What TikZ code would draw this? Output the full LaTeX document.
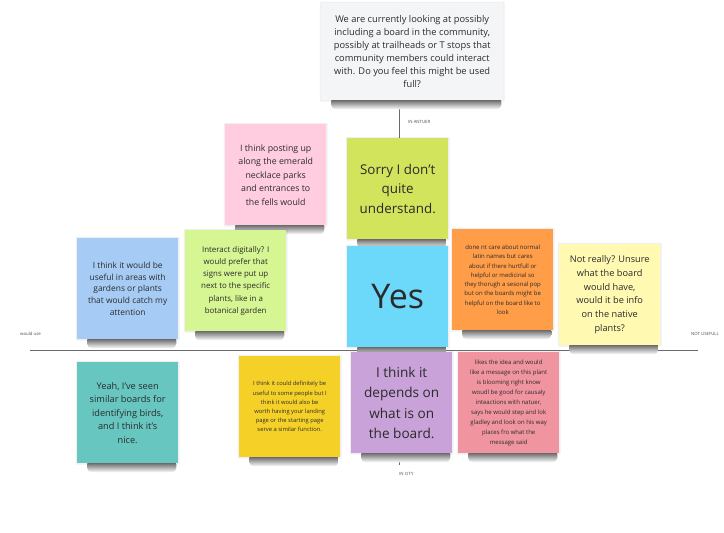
\documentclass[tikz,border=0pt]{standalone}
\usepackage{fontspec}
\setmainfont{Open Sans}
\usetikzlibrary{backgrounds}
\pgfdeclarelayer{paper}
\pgfsetlayers{paper,background,main}
\definecolor{qcard}{HTML}{F4F5F7}
\definecolor{cpink}{HTML}{FFCCE0}
\definecolor{clime}{HTML}{D2E35C}
\definecolor{ccyan}{HTML}{6CD8FA}
\definecolor{corange}{HTML}{FF9D48}
\definecolor{cpale}{HTML}{FFF9B1}
\definecolor{cblue}{HTML}{A6CCF5}
\definecolor{cgreen}{HTML}{D5F692}
\definecolor{cteal}{HTML}{67C6C0}
\definecolor{cyellow}{HTML}{F5D128}
\definecolor{cviolet}{HTML}{C8A2D8}
\definecolor{cred}{HTML}{F0949F}
\definecolor{ink}{HTML}{2B2B2B}
\definecolor{axis}{HTML}{6A6A6A}
\tikzset{
  sticky/.style={anchor=north west, fill=#1, minimum width=101, minimum height=101,
    inner sep=3, align=center, text=ink},
  fs/.style n args={2}{font={\fontsize{#1}{#2}\selectfont}},
  axislabel/.style={font={\fontsize{4.3}{5}\selectfont}, text=black!70, inner sep=0},
  axisline/.style={draw=axis, line width=0.9},
  noteshadow/.style={top color=black!80, bottom color=white, rounded corners=5},
  notehalo/.style={fill=black, fill opacity=0.06, rounded corners=1}
}
\begin{document}
\begin{tikzpicture}[x=1pt,y=-1pt]
\useasboundingbox (0,0) rectangle (724,533);
\begin{pgfonlayer}{paper}
  \fill[white] (0,0) rectangle (724,533);
\end{pgfonlayer}

% question card
\node[anchor=north west, fill=qcard, minimum width=182, minimum height=97, inner sep=3,
  align=center, text=ink, fs={9.3}{13}] (q) at (321,3)
  {We are currently looking at possibly\\including a board in the community,\\possibly at trailheads or T stops that\\community members could interact\\with. Do you feel this might be used\\full?};

% sticky notes
\node[sticky=cpink, fs={8.8}{13.5}] (pink) at (225,124)
  {I think posting up\\along the emerald\\necklace parks\\and entrances to\\the fells would};
\node[sticky=clime, fs={13.4}{19.6}] (sorry) at (347,138)
  {Sorry I don’t\\quite\\understand.};
\node[sticky=ccyan, fs={34}{40}] (yes) at (347,246) {Yes};
\node[sticky=corange, fs={6}{9.3}] (orange) at (452,229)
  {done nt care about normal\\latin names but cares\\about if there hurtfull or\\helpful or medicinal so\\they thorugh a sesonal pop\\but on the boards might be\\helpful on the board like to\\look};
\node[sticky=cpale, fs={9.2}{13.8}] (pale) at (559,244)
  {Not really? Unsure\\what the board\\would have,\\would it be info\\on the native\\plants?};
\node[sticky=cblue, fs={8.4}{11.8}] (blue) at (77,238)
  {I think it would be\\useful in areas with\\gardens or plants\\that would catch my\\attention};
\node[sticky=cgreen, fs={7.9}{12.2}] (green) at (185,230)
  {Interact digitally? I\\would prefer that\\signs were put up\\next to the specific\\plants, like in a\\botanical garden};
\node[sticky=cteal, fs={9.2}{13.5}] (teal) at (77,362)
  {Yeah, I’ve seen\\similar boards for\\identifying birds,\\and I think it’s\\nice.};
\node[sticky=cyellow, fs={5.8}{9.2}] (yellow) at (239,356)
  {I think it could definitely be\\useful to some people but I\\think it would also be\\worth having your landing\\page or the starting page\\serve a similar function.};
\node[sticky=cviolet, fs={13.6}{20.5}] (violet) at (351,352)
  {I think it\\depends on\\what is on\\the board.};
\node[sticky=cred, fs={6}{10}] (red) at (458,352)
  {likes the idea and would\\like a message on this plant\\is blooming right know\\woudl be good for causaly\\inteactions with natuer,\\says he would step and lok\\gladley and look on his way\\places fro what the\\message said};

% axis end points and labels
\coordinate (xl) at (30,350);
\coordinate (xr) at (698,350);
\coordinate (yt) at (399,100);
\coordinate (yb) at (399,465);
\node[axislabel, anchor=west] (lw) at (20,334) {would use};
\node[axislabel, anchor=west] (ln) at (691,334) {NOT USEFULL};
\node[axislabel, anchor=west] (la) at (408,122) {IN ANTUER};
\node[axislabel, anchor=west] (lc) at (399,474) {IN CITY};

\begin{scope}[on background layer]
  \draw[axisline] (yt) -- (yb);
  \draw[axisline] (xl) -- (xr);
  \foreach \n in {q,pink,sorry,yes,orange,pale,blue,green,teal,yellow,violet,red}{
    \fill[notehalo] ([shift={(-1.2pt,-1.2pt)}]\n.south west) rectangle ([shift={(1.2pt,1.2pt)}]\n.north east);
    \shade[noteshadow] ([xshift=10pt,yshift=4pt]\n.south west) rectangle ([xshift=-2pt,yshift=-9pt]\n.south east);
  }
\end{scope}
\end{tikzpicture}
\end{document}
